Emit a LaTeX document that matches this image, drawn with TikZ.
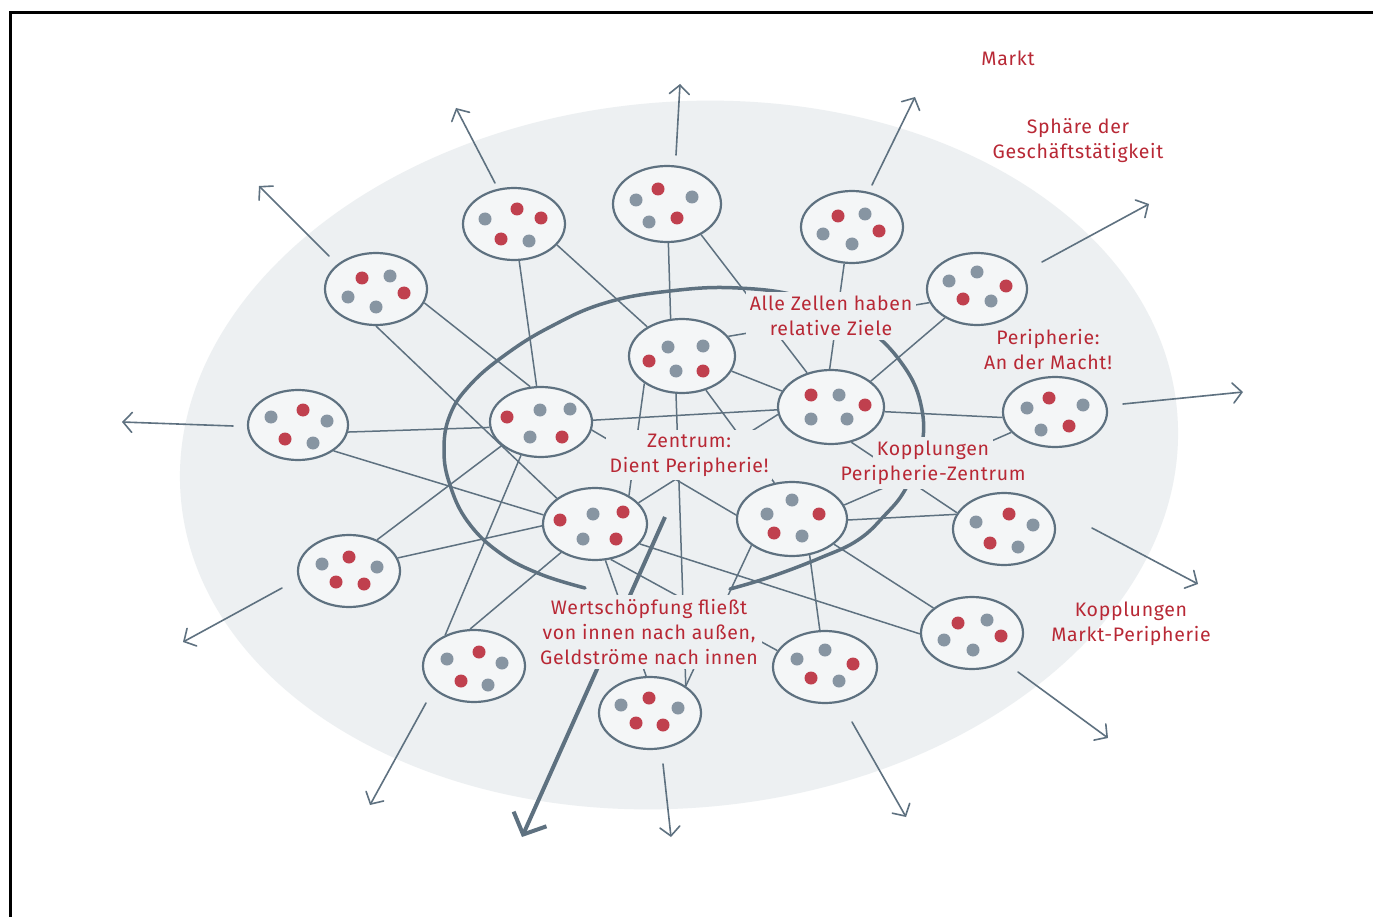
\documentclass[tikz,border=0pt]{standalone}
\usepackage{fontspec}
\setmainfont{Fira Sans}
\usetikzlibrary{arrows.meta,calc,shapes.geometric}

\definecolor{sphere}{HTML}{EDF0F2}
\definecolor{cellfill}{HTML}{F4F6F7}
\definecolor{slate}{HTML}{5E7180}
\definecolor{dotgray}{HTML}{8795A2}
\definecolor{dotred}{HTML}{C0404E}
\definecolor{labelred}{HTML}{B82835}

\pgfdeclarelayer{ground}
\pgfdeclarelayer{links}
\pgfdeclarelayer{notes}
\pgfsetlayers{ground,links,notes,main}

\tikzset{
  cellshape/.style={ellipse, draw=slate, line width=2.2pt, fill=cellfill, inner sep=0pt},
  link/.style={draw=slate, line width=1.5pt},
  ring/.style={draw=slate, line width=3.5pt, line cap=round},
  outarrow/.style={draw=slate, line width=1.6pt, line cap=round,
    -{Straight Barb[length=9pt,width=20pt,line cap=round]}},
  flowarrow/.style={draw=slate, line width=4pt,
    -{Straight Barb[length=17pt,width=36pt]}},
  note/.style={text=labelred, font=\fontsize{19.5}{25}\selectfont\addfontfeatures{LetterSpace=3.5},
    align=center, inner sep=4pt},
  mask/.style={note, fill=sphere},
}

% a cell: name, x, y, width, height, dots (dx/dy/colour)
\newcommand\drawcell[6]{%
  \node[cellshape, minimum width=#4pt, minimum height=#5pt] (#1) at (#2,#3) {};
  \foreach \dx/\dy/\k in {#6} {\fill[fill=\k] ($(#1.center)+(\dx,\dy)$) circle[radius=6.5pt];}
}

\begin{document}
\begin{tikzpicture}[x=1pt,y=-1pt]
\useasboundingbox (0,0) rectangle (1373,917);

% ---------- cells ----------
\def\R{dotred}\def\G{dotgray}
\drawcell{C1}{376}{289}{102}{72}{-14/-11/\R, 14/-13/\G, 28/4/\R, -28/8/\G, 0/18/\G}
\drawcell{C2}{514}{224}{102}{72}{-29/-5/\G, 3/-15/\R, 27/-6/\R, -13/15/\R, 15/17/\G}
\drawcell{C3}{667}{204}{108}{76}{-31/-4/\G, -9/-15/\R, 25/-7/\G, -18/18/\G, 10/14/\R}
\drawcell{C4}{852}{227}{102}{72}{-14/-11/\R, 13/-13/\G, 27/4/\R, -29/7/\G, 0/17/\G}
\drawcell{C5}{977}{289}{100}{72}{-28/-8/\G, 0/-17/\G, 29/-3/\R, -14/10/\R, 14/12/\G}
\drawcell{C6}{298}{425}{100}{70}{-27/-8/\G, 5/-15/\R, 29/-4/\G, -13/14/\R, 15/18/\G}
\drawcell{C7}{541}{422}{102}{70}{-34/-5/\R, -1/-12/\G, 29/-13/\G, -11/15/\G, 21/15/\R}
\drawcell{C8}{682}{356}{106}{74}{-14/-9/\G, 21/-10/\G, -33/5/\R, -6/15/\G, 21/15/\R}
\drawcell{C9}{831}{407}{106}{74}{-20/-12/\R, 8/-12/\G, 34/-2/\R, -20/12/\G, 16/12/\G}
\drawcell{C10}{1055}{412}{104}{70}{-6/-14/\R, -28/-4/\G, 28/-7/\G, -14/18/\G, 14/14/\R}
\drawcell{C11}{349}{571}{102}{72}{-27/-7/\G, 0/-14/\R, 28/-4/\G, -13/11/\R, 15/13/\R}
\drawcell{C12}{595}{524}{104}{72}{-35/-4/\R, -2/-10/\G, 28/-12/\R, -12/15/\G, 21/15/\R}
\drawcell{C13}{792}{519}{110}{74}{0/-19/\G, -25/-5/\G, 27/-5/\R, -18/14/\R, 10/17/\G}
\drawcell{C14}{1004}{529}{102}{72}{-28/-7/\G, 5/-15/\R, 29/-4/\G, -14/14/\R, 14/18/\G}
\drawcell{C15}{474}{666}{102}{72}{-27/-7/\G, 5/-14/\R, 28/-3/\G, -13/15/\R, 14/19/\G}
\drawcell{C16}{650}{713}{102}{72}{-29/-8/\G, -1/-15/\R, 28/-5/\G, -14/10/\R, 13/12/\R}
\drawcell{C17}{825}{667}{104}{72}{-28/-8/\G, 0/-17/\G, 28/-3/\R, -14/11/\R, 14/14/\G}
\drawcell{C18}{972}{633}{102}{72}{-14/-10/\R, 15/-13/\G, -28/7/\G, 29/3/\R, 1/17/\G}

% ---------- page, frame and sphere ----------
\begin{pgfonlayer}{ground}
  \fill[white] (0,0) rectangle (1373,917);
  \draw[line width=3pt] (10,917) -- (10,13) -- (1373,13);
  \fill[sphere, rotate around={5:(679,455)}] (679,455) ellipse [x radius=500pt, y radius=353pt];
\end{pgfonlayer}

% ---------- couplings, ring and arrows ----------
\begin{pgfonlayer}{links}
  \coordinate (t1) at (259,186);  \coordinate (t2) at (456,108);
  \coordinate (t3) at (680,84);   \coordinate (t4) at (915,97);
  \coordinate (t5) at (1149,204); \coordinate (t6) at (1243,392);
  \coordinate (t7) at (1198,584); \coordinate (t8) at (1108,738);
  \coordinate (t9) at (906,817);  \coordinate (t10) at (671,837);
  \coordinate (t11) at (370,805); \coordinate (t12) at (183,642);
  \coordinate (t13) at (122,422); \coordinate (flowtip) at (522,837);

  \draw[link] (C1.-16) -- (C7.107);
  \draw[link] (C1.-90) -- (C12.146);
  \draw[link] (C2.-82) -- (C7.97);
  \draw[link] (C2.-26) -- (C8.140);
  \draw[link] (C3.-88) -- (C8.107);
  \draw[link] (C3.-42) -- (C9.125);
  \draw[link] (C4.-102) -- (C9.92);
  \draw[link] (C8.23) -- (C5.196);
  \draw[link] (C9.33) -- (C5.-138);
  \draw[link] (C9.-5) -- (C10.186);
  \draw[link] (C8.-17) -- (C9.162);
  \draw[link] (C7.2) -- (C9.183);
  \draw[link] (C6.-8) -- (C7.186);
  \draw[link] (C6.-36) -- (C12.170);
  \draw[link] (C11.48) -- (C7.-149);
  \draw[link] (C11.15) -- (C12.182);
  \draw[link] (C15.133) -- (C7.-121);
  \draw[link] (C15.96) -- (C12.-140);
  \draw[link] (C8.-144) -- (C12.40);
  \draw[link] (C12.26) -- (C9.188);
  \draw[link] (C7.-9) -- (C13.176);
  \draw[link] (C8.-55) -- (C13.116);
  \draw[link] (C8.-99) -- (C16.37);
  \draw[link] (C13.-147) -- (C16.37);
  \draw[link] (C12.-74) -- (C16.96);
  \draw[link] (C12.-66) -- (C17.161);
  \draw[link] (C12.-24) -- (C18.181);
  \draw[link] (C13.-64) -- (C17.98);
  \draw[link] (C13.-1) -- (C14.163);
  \draw[link] (C13.-31) -- (C18.147);
  \draw[link] (C9.-60) -- (C14.161);
  \draw[link] (C10.-155) -- (C13.15);

  % the centre ring
  \draw[ring] plot[smooth, tension=0.7] coordinates {
    (585,588) (540,574) (500,553) (468,522) (450,485) (444,450) (450,415)
    (470,385) (505,355) (550,327) (605,303) (670,291) (738,288) (805,298)
    (862,325) (903,365) (922,410) (920,455) (905,490) (885,515) (858,540)
    (820,558) (770,577) (730,589)};

  % value flows outwards
  \draw[flowarrow] ($(C12)+(70,-7)$) -- (flowtip);

  % couplings to the market
  \draw[outarrow] ($(C1)+(-47,-33)$) -- (t1);
  \draw[outarrow] ($(C2)+(-19,-41)$) -- (t2);
  \draw[outarrow] ($(C3)+(9,-49)$) -- (t3);
  \draw[outarrow] ($(C4)+(20,-42)$) -- (t4);
  \draw[outarrow] ($(C5)+(65,-27)$) -- (t5);
  \draw[outarrow] ($(C10)+(68,-8)$) -- (t6);
  \draw[outarrow] ($(C14)+(88,-1)$) -- (t7);
  \draw[outarrow] ($(C18)+(46,39)$) -- (t8);
  \draw[outarrow] ($(C17)+(27,55)$) -- (t9);
  \draw[outarrow] ($(C16)+(13,51)$) -- (t10);
  \draw[outarrow] ($(C15)+(-48,37)$) -- (t11);
  \draw[outarrow] ($(C11)+(-67,17)$) -- (t12);
  \draw[outarrow] ($(C6)+(-65,1)$) -- (t13);
\end{pgfonlayer}

% ---------- labels ----------
\begin{pgfonlayer}{notes}
  \node[note] (market) at (1008,58) {Markt};
  \node[note] (sphere) at (1078,141) {Sphäre der\\Geschäftstätigkeit};
  \node[mask] (goals) at (831,316) {Alle Zellen haben\\relative Ziele};
  \node[note] (power) at (1048,350) {Peripherie:\\An der Macht!};
  \node[mask] (centre) at (689,455) {Zentrum:\\Dient Peripherie!};
  \node[mask] (pz1) at (933,450) {Kopplungen};
  \node[mask] (pz2) at (933,475) {Peripherie-Zentrum};
  \node[note] (mp) at (1131,624) {Kopplungen\\Markt-Peripherie};
  \node[mask] (value) at (649,632) {Wertschöpfung fließt\\von innen nach außen,\\Geldströme nach innen};
\end{pgfonlayer}
\end{tikzpicture}
\end{document}
